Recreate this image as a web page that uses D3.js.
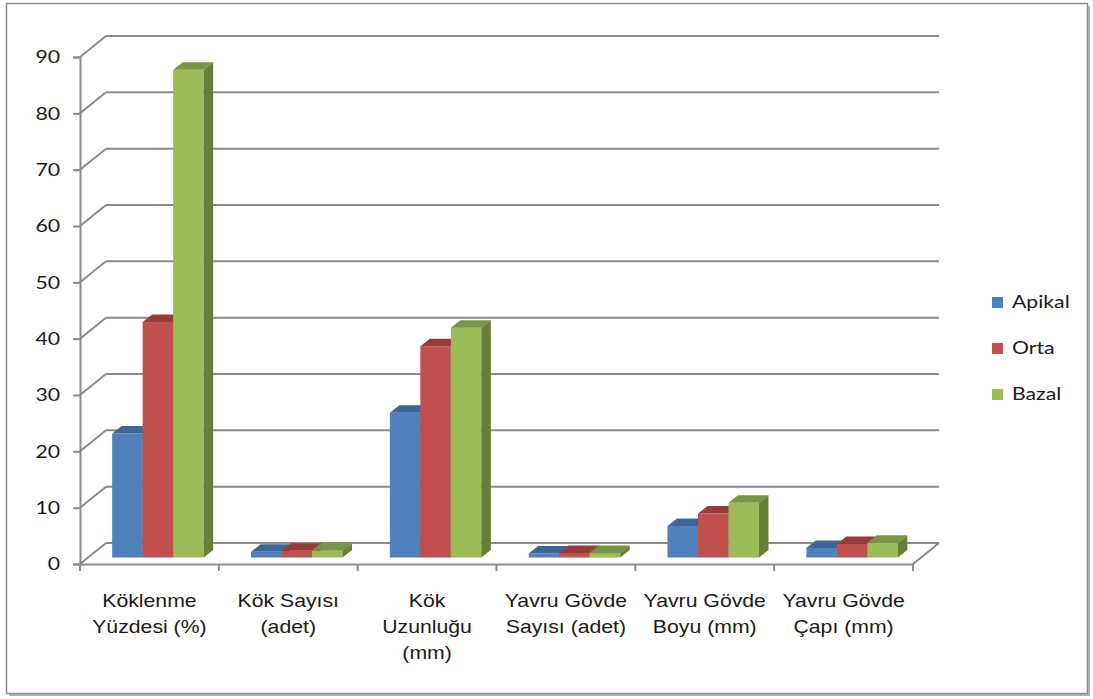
<!DOCTYPE html>
<html>
<head>
<meta charset="utf-8">
<script src="https://cdn.jsdelivr.net/npm/d3@7"></script>
<style>
  html, body { margin: 0; padding: 0; background: #fff; }
  svg { display: block; font-family: Lato, "Open Sans", sans-serif; }
</style>
</head>
<body>
<svg id="chart" width="1093" height="699"></svg>
<script>
// Category labels (line breaks as shown under the axis)
const categories = [
  ["Köklenme", "Yüzdesi (%)"],
  ["Kök Sayısı", "(adet)"],
  ["Kök", "Uzunluğu", "(mm)"],
  ["Yavru Gövde", "Sayısı (adet)"],
  ["Yavru Gövde", "Boyu (mm)"],
  ["Yavru Gövde", "Çapı (mm)"]
];
const seriesNames = ["Apikal", "Orta", "Bazal"];
const apikal = [22, 1.0, 25.7, 0.7, 5.6, 1.7];
const orta   = [41.8, 1.2, 37.5, 0.8, 7.8, 2.4];
const bazal  = [86.6, 1.2, 40.8, 0.8, 9.7, 2.6];
const yTicks = [0, 10, 20, 30, 40, 50, 60, 70, 80, 90];

const seriesValues = [apikal, orta, bazal];
const faceColors = ["#4F81BD", "#C0504D", "#9BBB59"];
const topColors  = ["#3D6697", "#963C3A", "#789546"];
const sideColors = ["#365A86", "#853533", "#66803A"];

const svg = d3.select("#chart");
const gridColor = "#8a8a8a";
const textColor = "#1a1a1a";
const stretch = 1.18;   // wide text face

// outer frame with a soft shadow on the right and bottom
svg.append("rect").attr("x", 9).attr("y", 6).attr("width", 1081).attr("height", 690)
  .attr("fill", "#b5b5b5");
svg.append("rect").attr("x", 6.5).attr("y", 3.5).attr("width", 1081).attr("height", 690)
  .attr("fill", "#fff").attr("stroke", "#8c8c8c").attr("stroke-width", 1.5);

// front plane geometry
const x0 = 80, x1 = 913;
const y = d3.scaleLinear().domain([0, 90]).range([564, 57]);
const band = d3.scaleBand().domain(d3.range(categories.length)).range([x0, x1]);
// depth offsets: back wall, bar front plane, bar back plane
const wall = { dx: 26, dy: -21 };
const barFront = { dx: 8.5, dy: -6.5 };
const barBack = { dx: 18, dy: -14 };

const inner = d3.scaleBand().domain(d3.range(seriesNames.length))
  .range([0, 91.5]);
const groupOffset = (band.bandwidth() - 91.5) / 2;

// back wall gridlines and the diagonal links to the front axis
const grid = svg.append("g");
yTicks.forEach(t => {
  const yy = y(t);
  grid.append("line")
    .attr("x1", x0 + wall.dx).attr("x2", x1 + wall.dx)
    .attr("y1", yy + wall.dy).attr("y2", yy + wall.dy)
    .attr("stroke", gridColor).attr("stroke-width", 2);
  grid.append("line")
    .attr("x1", x0).attr("y1", yy)
    .attr("x2", x0 + wall.dx).attr("y2", yy + wall.dy)
    .attr("stroke", gridColor).attr("stroke-width", 2);
});
// floor right edge
grid.append("line")
  .attr("x1", x1).attr("y1", y(0))
  .attr("x2", x1 + wall.dx).attr("y2", y(0) + wall.dy)
  .attr("stroke", gridColor).attr("stroke-width", 2);

// value axis on the front plane
const yAxis = svg.append("g").attr("transform", `translate(${x0},0)`)
  .call(d3.axisLeft(y).tickValues(yTicks).tickSize(7).tickPadding(12));
yAxis.select(".domain").attr("stroke", gridColor).attr("stroke-width", 2);
yAxis.selectAll(".tick line").attr("stroke", gridColor).attr("stroke-width", 2);
yAxis.selectAll(".tick text").attr("font-size", 18).attr("fill", textColor)
  .style("font-family", "Lato, sans-serif")
  .attr("x", -20 / stretch)
  .attr("transform", `scale(${stretch},1)`);

// category axis: boundary ticks and multi-line labels
const xAxis = svg.append("g").attr("transform", `translate(0,${y(0)})`)
  .call(d3.axisBottom(band).tickSize(0).tickFormat(""));
xAxis.select(".domain").attr("stroke", gridColor).attr("stroke-width", 2);
const bounds = d3.range(categories.length + 1).map(i =>
  i < categories.length ? band(i) : band(i - 1) + band.bandwidth());
xAxis.selectAll(".bound").data(bounds).join("line")
  .attr("x1", d => d).attr("x2", d => d).attr("y1", 0).attr("y2", 7)
  .attr("stroke", gridColor).attr("stroke-width", 2);
xAxis.selectAll(".tick").each(function(i) {
  const g = d3.select(this);
  g.select("text").remove();
  const txt = g.append("text").attr("text-anchor", "middle")
    .attr("font-size", 18).attr("fill", textColor)
    .attr("transform", `scale(${stretch},1)`);
  categories[i].forEach((line, k) => {
    txt.append("tspan").attr("x", 0).attr("y", 43 + k * 26).text(line);
  });
});

// 3D columns
const bars = svg.append("g");
categories.forEach((_, ci) => {
  seriesValues.forEach((vals, si) => {
    const v = vals[ci];
    const left = band(ci) + groupOffset + inner(si) + barFront.dx;
    const w = inner.bandwidth();
    const top = y(v) + barFront.dy;
    const bottom = y(0) + barFront.dy;
    const ddx = barBack.dx - barFront.dx, ddy = barBack.dy - barFront.dy;
    // front face
    bars.append("rect").attr("x", left).attr("y", top)
      .attr("width", w).attr("height", bottom - top).attr("fill", faceColors[si]);
    // top face
    bars.append("path").attr("fill", topColors[si])
      .attr("d", `M${left},${top}L${left + ddx},${top + ddy}L${left + w + ddx},${top + ddy}L${left + w},${top}Z`);
    // right side face
    bars.append("path").attr("fill", sideColors[si])
      .attr("d", `M${left + w},${top}L${left + w + ddx},${top + ddy}L${left + w + ddx},${bottom + ddy}L${left + w},${bottom}Z`);
  });
});

// legend
const legend = svg.append("g").attr("transform", "translate(992,297)");
seriesNames.forEach((name, i) => {
  const g = legend.append("g").attr("transform", `translate(0,${i * 46})`);
  g.append("rect").attr("width", 11).attr("height", 11).attr("fill", faceColors[i]);
  g.append("text").attr("x", 20 / stretch).attr("y", 11).attr("font-size", 18)
    .attr("transform", `scale(${stretch},1)`)
    .attr("fill", textColor).text(name);
});
</script>
</body>
</html>
